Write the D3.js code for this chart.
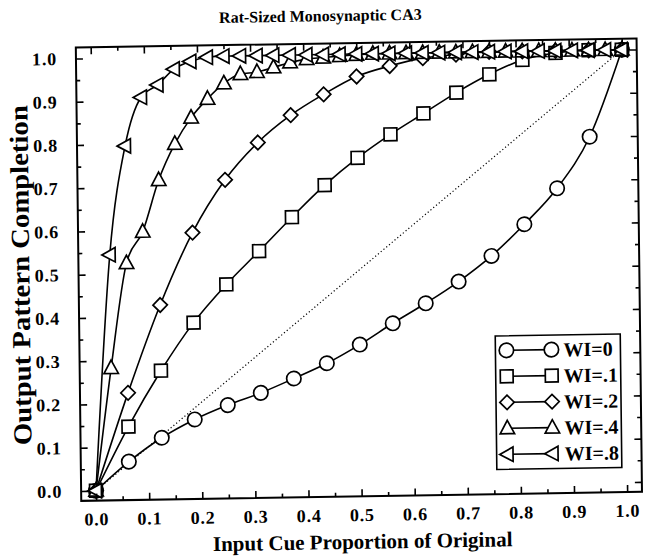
<!DOCTYPE html>
<html><head><meta charset="utf-8">
<script src="https://cdn.jsdelivr.net/npm/d3@7"></script>
<style>body{margin:0;background:#fff}svg{display:block}</style>
</head><body>
<svg id="c" width="647" height="557"></svg>
<script>
// ---- data ----
const title = "Rat-Sized Monosynaptic CA3";
const xTitle = "Input Cue Proportion of Original";
const yTitle = "Output Pattern Completion";
const xTickLabels = ["0.0","0.1","0.2","0.3","0.4","0.5","0.6","0.7","0.8","0.9","1.0"];
const yTickLabels = ["0.0","0.1","0.2","0.3","0.4","0.5","0.6","0.7","0.8","0.9","1.0"];
const x16 = [0,0.0625,0.125,0.1875,0.25,0.3125,0.375,0.4375,0.5,0.5625,0.625,0.6875,0.75,0.8125,0.875,0.9375,1];
const x32 = [0,0.03125,0.0625,0.09375,0.125,0.15625,0.1875,0.21875,0.25,0.28125,0.3125,0.34375,0.375,0.40625,0.4375,0.46875,0.5,
             0.53125,0.5625,0.59375,0.625,0.65625,0.6875,0.71875,0.75,0.78125,0.8125,0.84375,0.875,0.90625,0.9375,0.96875,1];
const wi0 = [0,0.066,0.120,0.161,0.193,0.220,0.252,0.286,0.328,0.376,0.421,0.470,0.528,0.600,0.682,0.800,1.0];
const wi1 = [0,0.147,0.275,0.385,0.472,0.548,0.625,0.698,0.760,0.813,0.860,0.907,0.948,0.980,0.995,1.0,1.0];
const wi2 = [0,0.225,0.427,0.593,0.714,0.799,0.861,0.908,0.948,0.971,0.988,0.995,1.0,1.0,1.0,1.0,1.0];
const wi4 = [0,0.283,0.525,0.597,0.716,0.799,0.859,0.902,0.937,0.958,0.962,0.972,0.983,0.990,0.993,0.996,0.998,
             1,1,1,1,1,1,1,1,1,1,1,1,1,1,1,1];
const wi8 = [0,0.545,0.796,0.908,0.936,0.972,0.989,0.998,1,1,1,1,1,1,1,1,1,
             1,1,1,1,1,1,1,1,1,1,1,1,1,1,1,1];
const seriesNames = ["WI=0","WI=.1","WI=.2","WI=.4","WI=.8"];
const identity = [0,1];

// ---- layout ----
const FONT = "'Liberation Serif','Times New Roman',Times,serif";
const x = d3.scaleLinear().domain([0,1]).range([96,627]);
const y = d3.scaleLinear().domain([0,1]).range([490.7,58.3]);
const fx0 = x(-0.028), fx1 = x(1.028), fy0 = y(-0.023), fy1 = y(1.0255);

const svg = d3.select("#c");
svg.append("rect").attr("width",647).attr("height",557).attr("fill","#fff");
// slight skew like the scanned original
const root = svg.append("g").attr("transform","matrix(1,-0.0162,0.012,1,-5.88,1.555)");

// symbols
const sym = {
  circle: r => `M${r},0A${r},${r} 0 1,1 ${-r},0A${r},${r} 0 1,1 ${r},0Z`,
  square: r => `M${-r},${-r}H${r}V${r}H${-r}Z`,
  diamond: r => `M0,${-r}L${r},0L0,${r}L${-r},0Z`,
  up: r => `M0,${-r*1.1}L${r},${r*0.75}L${-r},${r*0.75}Z`,
  left: r => `M${-r*1.1},0L${r*0.75},${-r}L${r*0.75},${r}Z`
};
const symSize = {circle:7.2, square:6.4, diamond:7.2, up:7.2, left:7.2};
const series = [
  {name:seriesNames[0], xs:x16, ys:wi0, s:"circle"},
  {name:seriesNames[1], xs:x16, ys:wi1, s:"square"},
  {name:seriesNames[2], xs:x16, ys:wi2, s:"diamond"},
  {name:seriesNames[3], xs:x32, ys:wi4, s:"up"},
  {name:seriesNames[4], xs:x32, ys:wi8, s:"left"}
];

// diagonal reference
root.append("line")
  .attr("x1",x(identity[0])).attr("y1",y(identity[0]))
  .attr("x2",x(identity[1])).attr("y2",y(identity[1]))
  .attr("stroke","#000").attr("stroke-width",1.2).attr("stroke-dasharray","1.2,2.4");

const line = d3.line().x(d=>x(d[0])).y(d=>y(d[1])).curve(d3.curveMonotoneX);
series.forEach(se => {
  const pts = se.xs.map((v,i)=>[v,se.ys[i]]);
  root.append("path").attr("d",line(pts)).attr("fill","none")
    .attr("stroke","#000").attr("stroke-width",1.6);
  root.append("g").selectAll("path").data(pts).join("path")
    .attr("transform",d=>`translate(${x(d[0])},${y(d[1])})`)
    .attr("d",sym[se.s](symSize[se.s]))
    .attr("fill","#fff").attr("stroke","#000").attr("stroke-width",1.7);
});

// axes
const major = d3.range(0,11).map(i=>i/10);
const minor = d3.range(0,11).map(i=>i/10+0.05).filter(v=>v<1.01);
function styleAxis(g){
  g.select(".domain").remove();
  g.selectAll("line").attr("stroke","#000").attr("stroke-width",1.6);
  g.selectAll("text").attr("font-family",FONT).attr("font-weight","bold")
    .attr("font-size",18).attr("fill","#000").attr("letter-spacing",0.8);
}
root.append("g").attr("transform",`translate(0,${fy0})`)
  .call(d3.axisBottom(x).tickValues(major).tickSize(-7).tickPadding(12).tickFormat((d,i)=>xTickLabels[i]))
  .call(styleAxis);
root.append("g").attr("transform",`translate(0,${fy0})`)
  .call(d3.axisBottom(x).tickValues(minor).tickSize(-4).tickFormat(""))
  .call(styleAxis);
root.append("g").attr("transform",`translate(0,${fy1})`)
  .call(d3.axisTop(x).tickValues(major).tickSize(-7).tickFormat(""))
  .call(styleAxis);
root.append("g").attr("transform",`translate(0,${fy1})`)
  .call(d3.axisTop(x).tickValues(minor).tickSize(-4).tickFormat(""))
  .call(styleAxis);
root.append("g").attr("transform",`translate(${fx0},0)`)
  .call(d3.axisLeft(y).tickValues(major).tickSize(-7).tickPadding(19).tickFormat((d,i)=>yTickLabels[i]))
  .call(styleAxis);
root.append("g").attr("transform",`translate(${fx0},0)`)
  .call(d3.axisLeft(y).tickValues(minor).tickSize(-4).tickFormat(""))
  .call(styleAxis);
root.append("g").attr("transform",`translate(${fx1},0)`)
  .call(d3.axisRight(y).tickValues(major).tickSize(-7).tickFormat(""))
  .call(styleAxis);
root.append("g").attr("transform",`translate(${fx1},0)`)
  .call(d3.axisRight(y).tickValues(minor).tickSize(-4).tickFormat(""))
  .call(styleAxis);

// frame
root.append("rect").attr("x",fx0).attr("y",fy1).attr("width",fx1-fx0).attr("height",fy0-fy1)
  .attr("fill","none").attr("stroke","#000").attr("stroke-width",2);

// titles
root.append("text").attr("x",326).attr("y",25).attr("text-anchor","middle")
  .attr("font-family",FONT).attr("font-weight","bold").attr("font-size",16).text(title);
root.append("text").attr("x",362).attr("y",553).attr("text-anchor","middle")
  .attr("font-family",FONT).attr("font-weight","bold").attr("font-size",21).text(xTitle);
root.append("text").attr("transform","translate(32,274) rotate(-90)").attr("text-anchor","middle")
  .attr("font-family",FONT).attr("font-weight","bold").attr("font-size",26)
  .attr("textLength",340).attr("lengthAdjust","spacingAndGlyphs").text(yTitle);

// legend
const lg = root.append("g");
lg.append("rect").attr("x",497).attr("y",342.5).attr("width",125).attr("height",133.5)
  .attr("fill","#fff").attr("stroke","#000").attr("stroke-width",1.6);
series.forEach((se,i)=>{
  const cy = 357 + i*26;
  lg.append("line").attr("x1",508).attr("x2",553).attr("y1",cy).attr("y2",cy)
    .attr("stroke","#000").attr("stroke-width",1.6);
  [508,553].forEach(cx=>{
    lg.append("path").attr("transform",`translate(${cx},${cy})`).attr("d",sym[se.s](symSize[se.s]))
      .attr("fill","#fff").attr("stroke","#000").attr("stroke-width",1.7);
  });
  lg.append("text").attr("x",565).attr("y",cy+7).attr("font-family",FONT).attr("font-weight","bold")
    .attr("font-size",20).text(se.name);
});
</script>
</body></html>
